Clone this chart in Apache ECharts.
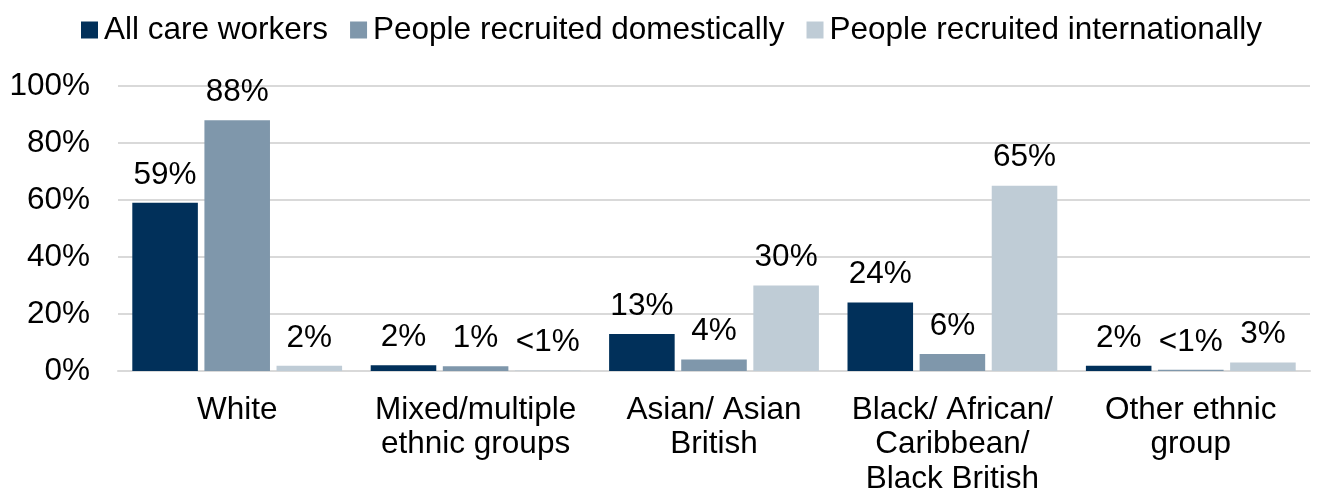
<!DOCTYPE html>
<html><head><meta charset="utf-8">
<script src="https://cdn.jsdelivr.net/npm/echarts@6/dist/echarts.min.js"></script>
<style>html,body{margin:0;padding:0;background:#fff}#c{width:1322px;height:493px}</style>
</head><body><div id="c"></div>
<script>
const categories = ["White", "Mixed/multiple\nethnic groups", "Asian/ Asian\nBritish", "Black/ African/\nCaribbean/\nBlack British", "Other ethnic\ngroup"];
const seriesNames = ["All care workers", "People recruited domestically", "People recruited internationally"];
const allCare = [59, 2, 13, 24, 1.8];
const domestic = [88, 1.7, 4, 6, 0.4];
const international = [1.8, 0.2, 30, 65, 3];
const allCareLabels = ["59%", "2%", "13%", "24%", "2%"];
const domesticLabels = ["88%", "1%", "4%", "6%", "<1%"];
const internationalLabels = ["2%", "<1%", "30%", "65%", "3%"];
const yTicks = [0, 20, 40, 60, 80, 100];
const colors = ["#01305a", "#7f97ab", "#bfccd6"];

const font = "Liberation Sans, Arial, sans-serif";
const fs = 31.5;
function mk(name, data, labels, color) {
  return {
    name: name, type: "bar", data: data,
    barGap: "10%", barCategoryGap: "12%",
    itemStyle: { color: color },
    label: { show: true, position: "top", distance: 12, color: "#000", fontSize: fs, fontFamily: font,
      formatter: p => labels[p.dataIndex] }
  };
}
const chart = echarts.init(document.getElementById("c"));
chart.setOption({
  animation: false,
  color: colors,
  legend: { top: 9, left: 76, itemWidth: 17, itemHeight: 17, itemGap: 22,
    icon: "rect", textStyle: { fontSize: fs, fontFamily: font, color: "#000", padding: [0, 0, 0, 1] } },
  grid: { left: 118, right: 12, top: 86, bottom: 122, outerBoundsMode: "none", containLabel: false },
  xAxis: { type: "category", data: categories,
    axisLine: { lineStyle: { color: "#d9d9d9", width: 2 } }, axisTick: { show: false },
    axisLabel: { fontSize: fs, fontFamily: font, color: "#000", margin: 22, lineHeight: 34.5, interval: 0 } },
  yAxis: { type: "value", min: yTicks[0], max: yTicks[yTicks.length - 1], interval: 20,
    axisLabel: { formatter: "{value}%", fontSize: fs, fontFamily: font, color: "#000", margin: 28 },
    splitLine: { lineStyle: { color: "#d9d9d9", width: 2 } },
    axisLine: { show: false }, axisTick: { show: false } },
  series: [
    mk(seriesNames[0], allCare, allCareLabels, colors[0]),
    mk(seriesNames[1], domestic, domesticLabels, colors[1]),
    mk(seriesNames[2], international, internationalLabels, colors[2])
  ]
});
</script></body></html>
